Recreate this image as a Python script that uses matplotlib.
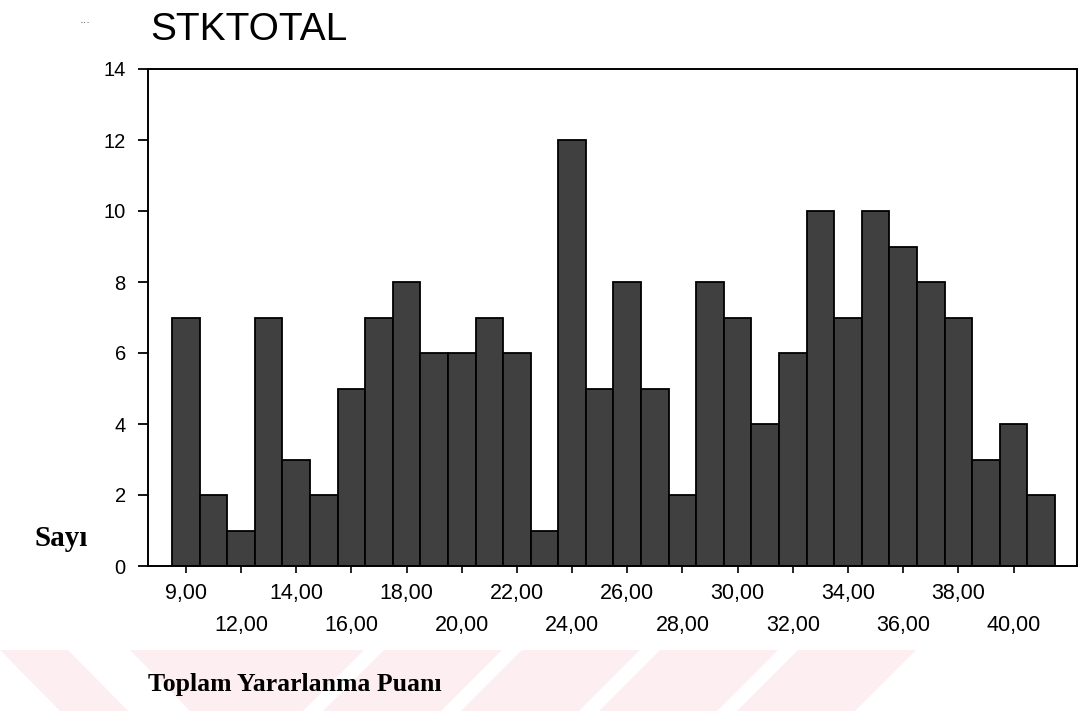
import matplotlib
matplotlib.use('Agg')
import matplotlib.pyplot as plt
from matplotlib.patches import Polygon

# Veriler (çubuk sırası ve sayılar)
counts = [7, 2, 1, 7, 3, 2, 5, 7, 8, 6, 6, 7, 6, 1, 12, 5,
          8, 5, 2, 8, 7, 4, 6, 10, 7, 10, 9, 8, 7, 3, 4, 2]
top_labels = ['9,00', '14,00', '18,00', '22,00', '26,00', '30,00', '34,00', '38,00']
bottom_labels = ['12,00', '16,00', '20,00', '24,00', '28,00', '32,00', '36,00', '40,00']
y_ticks = [0, 2, 4, 6, 8, 10, 12, 14]

W, H = 1080, 711
fig = plt.figure(figsize=(W / 100, H / 100), dpi=100)

# Arka plandaki soluk pembe şeritler
pink = '#fdeef1'
def px(x, y):
    return (x / W, 1 - y / H)

shapes = [
    [(0, 650), (68, 650), (128, 711), (60, 711)],
    [(130, 650), (364, 650), (303, 711), (190, 711)],
]
for right in [502, 640, 778, 916]:
    shapes.append([(right - 118, 650), (right, 650), (right - 61, 711), (right - 179, 711)])
for s in shapes:
    fig.patches.append(Polygon([px(*p) for p in s], closed=True, transform=fig.transFigure,
                               facecolor=pink, edgecolor='none', zorder=0))

ax = fig.add_axes([148 / W, 1 - 566 / H, (1077 - 148) / W, (566 - 69) / H])
positions = list(range(len(counts)))
ax.bar(positions, counts, width=1.0, color='#404040', edgecolor='black', linewidth=1.3, zorder=2)

ax.set_xlim(-1.37, 32.3)
ax.set_ylim(0, 14)
ax.set_yticks(y_ticks)
ax.set_yticklabels([str(v) for v in y_ticks], fontsize=14.5, family='Liberation Sans')
ax.tick_params(axis='y', direction='out', length=7, width=1.3, pad=9)

ax.set_xticks(positions[0::4])
ax.set_xticklabels(top_labels, fontsize=15.5, family='Liberation Sans')
ax.set_xticks(positions[2::4], minor=True)
ax.set_xticklabels(bottom_labels, minor=True, fontsize=15.5, family='Liberation Sans')
ax.tick_params(axis='x', which='major', direction='out', length=5, width=1.2, pad=7)
ax.tick_params(axis='x', which='minor', direction='out', length=5, width=1.2, pad=30)

for sp in ax.spines.values():
    sp.set_linewidth(1.4)

fig.text(150 / W, 1 - 30 / H, 'STKTOTAL', fontsize=28, family='Liberation Sans',
         va='center', ha='left')
fig.text(80 / W, 1 - 20 / H, '...', fontsize=8, color='#555555', va='center', ha='left')
fig.text(35 / W, 1 - 538 / H, 'Sayı', fontsize=21, family='Liberation Serif',
         weight='bold', va='center', ha='left')
fig.text(148 / W, 1 - 685 / H, 'Toplam Yararlanma Puanı', fontsize=18.5,
         family='Liberation Serif', weight='bold', va='center', ha='left')

fig.savefig('out.png', dpi=100)
